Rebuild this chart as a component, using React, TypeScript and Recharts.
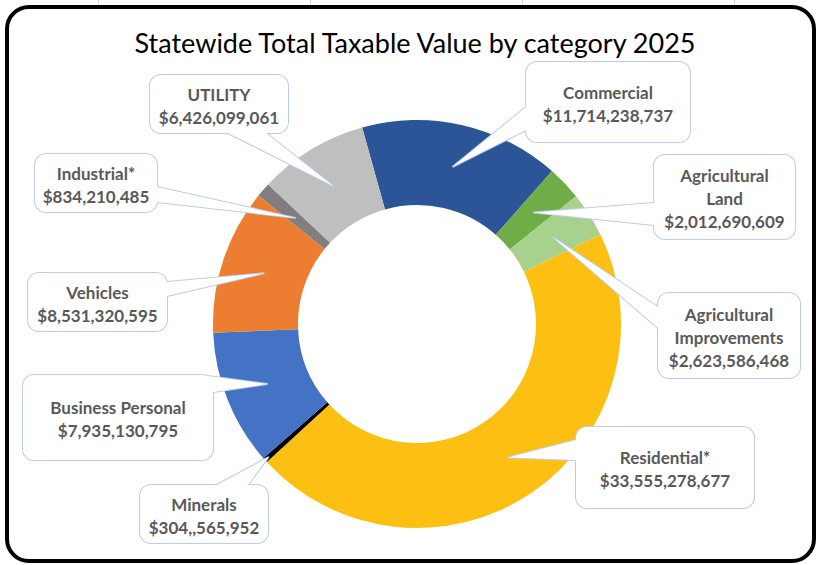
import { PieChart, Pie, Cell } from 'recharts';

const categories = [
  'Commercial',
  'Agricultural\nLand',
  'Agricultural\nImprovements',
  'Residential*',
  'Minerals',
  'Business Personal',
  'Vehicles',
  'Industrial*',
  'UTILITY',
];

const values = [
  11714238737, 2012690609, 2623586468, 33555278677, 304565952, 7935130795, 8531320595, 834210485,
  6426099061,
];

// as printed on the callouts (the minerals one has a doubled comma in the original)
const amountLabels = [
  '$11,714,238,737',
  '$2,012,690,609',
  '$2,623,586,468',
  '$33,555,278,677',
  '$304,,565,952',
  '$7,935,130,795',
  '$8,531,320,595',
  '$834,210,485',
  '$6,426,099,061',
];

const COLORS = ['#2B5597', '#70AD47', '#A9D18E', '#FCBF12', '#000000', '#4472C4', '#ED7D31', '#7F7F7F', '#BFBFBF'];

// callout boxes: rect, the two base points of the pointer, and how far out the tip sits in the ring
const callouts = [
  { x: 526, y: 62, w: 164, h: 80, base: [[526, 107], [526, 130]], tip: 0.5 },
  { x: 654, y: 155, w: 141, h: 84, base: [[654, 203], [654, 225]], tip: 0.5 },
  { x: 658, y: 293, w: 142, h: 85, base: [[658, 307], [658, 328]], tip: 0.5 },
  { x: 576, y: 427, w: 178, h: 81, base: [[576, 440], [576, 460]], tip: 0.5 },
  { x: 140, y: 485, w: 128, h: 58, base: [[217, 485], [248, 485]], tip: 0.95 },
  { x: 23, y: 375, w: 190, h: 85, base: [[213, 392], [200, 375]], tip: 0.5 },
  { x: 28, y: 273, w: 139, h: 58, base: [[167, 282], [167, 296]], tip: 0.5 },
  { x: 35, y: 154, w: 122, h: 58, base: [[157, 187], [157, 202]], tip: 0.5 },
  { x: 150, y: 75, w: 138, h: 58, base: [[228, 133], [266, 133]], tip: 0.5 },
];

const data = categories.map((name, i) => ({ name, value: values[i] }));

const RAD = Math.PI / 180;
const BORDER = '#BCCDE9';

function renderCallout(props: any) {
  const { cx, cy, midAngle, innerRadius, outerRadius, index } = props;
  const c = callouts[index];
  const r = innerRadius + (outerRadius - innerRadius) * c.tip;
  const tx = cx + r * Math.cos(-midAngle * RAD);
  const ty = cy + r * Math.sin(-midAngle * RAD);
  const tri = `M${c.base[0][0]},${c.base[0][1]} L${tx},${ty} L${c.base[1][0]},${c.base[1][1]} Z`;
  const lines = [...categories[index].split('\n'), amountLabels[index]];
  const mid = c.y + c.h / 2;
  return (
    <g key={`callout-${index}`}>
      <rect x={c.x} y={c.y} width={c.w} height={c.h} rx={11} fill="none" stroke={BORDER} strokeWidth={2} />
      <path d={tri} fill="none" stroke={BORDER} strokeWidth={2} strokeLinejoin="round" />
      <rect x={c.x} y={c.y} width={c.w} height={c.h} rx={11} fill="#fff" />
      <path d={tri} fill="#fff" />
      {lines.map((t, k) => (
        <text
          key={k}
          x={c.x + c.w / 2}
          y={mid + (k - (lines.length - 1) / 2) * 23 + 8}
          textAnchor="middle"
          fill="#595959"
          fontSize={17}
          fontWeight="bold"
          fontFamily="Lato, 'Open Sans', sans-serif"
        >
          {t}
        </text>
      ))}
    </g>
  );
}

export default function App() {
  return (
    <div style={{ position: 'absolute', left: 0, top: 0, width: 817, height: 565, background: '#fff', overflow: 'hidden' }}>
      {/* spreadsheet gridlines peeking above the frame */}
      {[98, 310, 522, 734].map((x) => (
        <div key={x} style={{ position: 'absolute', left: x, top: 0, width: 1, height: 6, background: '#D9D9D9' }} />
      ))}
      <div
        style={{
          position: 'absolute',
          left: 5,
          top: 5,
          width: 811,
          height: 558,
          border: '4px solid #000',
          borderRadius: 24,
          boxSizing: 'border-box',
          background: '#fff',
        }}
      />
      <div
        style={{
          position: 'absolute',
          left: 0,
          top: 25,
          width: 830,
          textAlign: 'center',
          fontFamily: "Lato, 'Open Sans', sans-serif",
          fontSize: 27,
          color: '#000',
          lineHeight: '36px',
        }}
      >
        Statewide Total Taxable Value by category 2025
      </div>
      <div style={{ position: 'absolute', left: 0, top: 0 }}>
        <PieChart width={817} height={565}>
          <Pie
            data={data}
            dataKey="value"
            cx={412}
            cy={319}
            innerRadius={119}
            outerRadius={204}
            startAngle={105.6}
            endAngle={-254.4}
            stroke="none"
            label={renderCallout}
            labelLine={false}
            isAnimationActive={false}
          >
            {data.map((_, i) => (
              <Cell key={`cell-${i}`} fill={COLORS[i]} />
            ))}
          </Pie>
        </PieChart>
      </div>
    </div>
  );
}
